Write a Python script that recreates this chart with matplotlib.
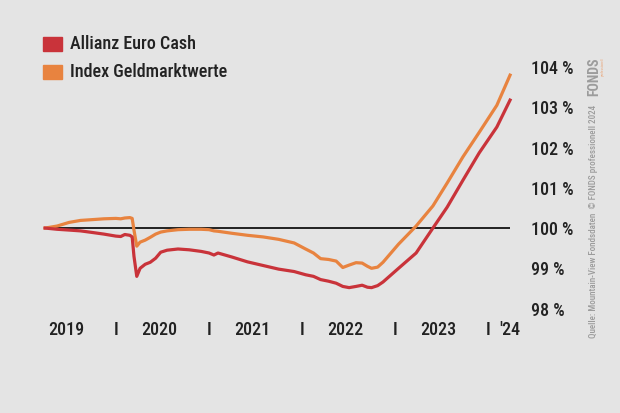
import matplotlib
matplotlib.use("Agg")
import matplotlib.pyplot as plt
from matplotlib import font_manager as fm
import pandas as pd

# values (indexed to 100 %)
dates = ["2019-03-29", "2019-05-15", "2019-07-01", "2019-08-15", "2019-10-01",
         "2019-11-15", "2020-01-01", "2020-01-20", "2020-02-05", "2020-02-25",
         "2020-03-05", "2020-03-12", "2020-03-23", "2020-04-05", "2020-04-25",
         "2020-05-15", "2020-06-05", "2020-06-25", "2020-07-20", "2020-09-01",
         "2020-10-15", "2020-12-01", "2021-01-01", "2021-01-20", "2021-02-05",
         "2021-04-01", "2021-06-01", "2021-08-01", "2021-10-01", "2021-12-01",
         "2022-01-15", "2022-02-15", "2022-03-15", "2022-04-15", "2022-05-15",
         "2022-06-10", "2022-07-05", "2022-08-01", "2022-08-25", "2022-09-15",
         "2022-10-01", "2022-10-25", "2022-11-15", "2023-01-15", "2023-03-25",
         "2023-05-30", "2023-07-25", "2023-09-25", "2023-11-28", "2024-02-05",
         "2024-03-28"]
allianz = [100.00, 99.97, 99.95, 99.93, 99.89,
           99.85, 99.80, 99.79, 99.84, 99.82,
           99.78, 99.30, 98.80, 99.00, 99.10,
           99.15, 99.25, 99.40, 99.45, 99.48,
           99.46, 99.42, 99.38, 99.33, 99.38,
           99.28, 99.16, 99.07, 98.98, 98.92,
           98.84, 98.80, 98.72, 98.68, 98.63,
           98.55, 98.52, 98.55, 98.58, 98.53,
           98.52, 98.57, 98.66, 99.00, 99.38,
           100.00, 100.52, 101.19, 101.87, 102.51,
           103.18]
index_gm = [100.00, 100.05, 100.14, 100.19, 100.21,
            100.23, 100.24, 100.23, 100.25, 100.26,
            100.24, 99.95, 99.55, 99.65, 99.70,
            99.77, 99.85, 99.90, 99.93, 99.96,
            99.97, 99.97, 99.96, 99.93, 99.92,
            99.87, 99.82, 99.78, 99.72, 99.63,
            99.48, 99.38, 99.24, 99.22, 99.18,
            99.02, 99.08, 99.14, 99.13, 99.05,
            99.00, 99.03, 99.15, 99.60, 100.05,
            100.55, 101.12, 101.77, 102.38, 103.05,
            103.80]

year_pos = ["2019-06-20", "2020-06-20", "2021-06-20", "2022-06-20", "2023-06-20", "2024-03-28"]
year_labels = ["2019", "2020", "2021", "2022", "2023", "'24"]
sep_pos = ["2020-01-01", "2021-01-01", "2022-01-01", "2023-01-01", "2024-01-01"]
y_ticks = [98, 99, 100, 101, 102, 103, 104]
y_labels = [f"{v} %" for v in y_ticks]

bg = "#e4e4e4"
red = "#c9333a"
orange = "#e8833f"
txt = "#222222"
grey = "#9c9c9c"


# look for a narrow font, the original uses a condensed grotesk
def find_font(weight_tag):
    for key in ["RobotoCondensed", "LiberationSansNarrow", "DejaVuSansCondensed", "Condensed", "Narrow"]:
        hits = sorted(f.fname for f in fm.fontManager.ttflist
                      if key in f.fname.replace("-", "").replace("_", "")
                      and "Italic" not in f.fname and "Oblique" not in f.fname)
        if not hits:
            continue
        tagged = [h for h in hits if weight_tag in h.split("/")[-1]]
        if tagged:
            return tagged[0]
        plain = [h for h in hits if "Bold" not in h and "Light" not in h]
        return plain[0] if plain else hits[0]
    return None


font = find_font("Medium")
font_bold = find_font("Bold")


def fp(size, bold=False):
    f = font_bold if bold else font
    if f:
        return fm.FontProperties(fname=f, size=size)
    return fm.FontProperties(family="DejaVu Sans", size=size * 0.85, weight="bold" if bold else "normal")


x = pd.to_datetime(dates)

fig = plt.figure(figsize=(6.2, 4.13), dpi=100, facecolor=bg)
ax = fig.add_axes([40 / 620, 1 - 315 / 413, 480 / 620, 260 / 413])
ax.set_facecolor(bg)

ax.hlines(100, x[0], x[-1], color="black", lw=1.2, zorder=2)
ax.plot(x, index_gm, color=orange, lw=2.3, zorder=3)
ax.plot(x, allianz, color=red, lw=2.3, zorder=4)

ax.set_xlim(pd.Timestamp("2019-03-09"), pd.Timestamp("2024-05-06"))
ax.set_ylim(97.84, 104.30)

for s in ax.spines.values():
    s.set_visible(False)

ax.yaxis.tick_right()
ax.set_yticks(y_ticks, y_labels)
ax.tick_params(axis="y", length=0, pad=8, labelcolor=txt)

xt = list(pd.to_datetime(year_pos)) + list(pd.to_datetime(sep_pos))
xl = year_labels + ["I"] * len(sep_pos)
ax.set_xticks(xt, xl)
ax.tick_params(axis="x", length=0, pad=4, labelcolor=txt)
for lab in ax.get_xticklabels() + ax.get_yticklabels():
    lab.set_fontproperties(fp(13))

# legend
fig.patches.append(plt.Rectangle((43 / 620, 1 - 51 / 413), 19 / 620, 14 / 413,
                                 transform=fig.transFigure, color=red))
fig.patches.append(plt.Rectangle((43 / 620, 1 - 79 / 413), 19 / 620, 14 / 413,
                                 transform=fig.transFigure, color=orange))
fig.text(70 / 620, 1 - 44 / 413, "Allianz Euro Cash", fontproperties=fp(13),
         color=txt, va="center", ha="left")
fig.text(70 / 620, 1 - 72 / 413, "Index Geldmarktwerte", fontproperties=fp(13),
         color=txt, va="center", ha="left")

# source note + logo
fig.text(593 / 620, 1 - 338 / 413,
         "Quelle: Mountain-View Fondsdaten  \u00a9 FONDS professionell 2024",
         fontproperties=fp(6.5), color=grey, rotation=90,
         ha="center", va="bottom")
fig.text(594 / 620, 1 - 57 / 413, "FONDS", fontproperties=fp(10, bold=True),
         color=grey, rotation=90, ha="center", va="top")
fig.text(603 / 620, 1 - 57 / 413, "professionell", fontproperties=fp(2.5),
         color="#e9b08a", rotation=90, ha="center", va="top")

plt.savefig("out.png", dpi=100, facecolor=bg)
